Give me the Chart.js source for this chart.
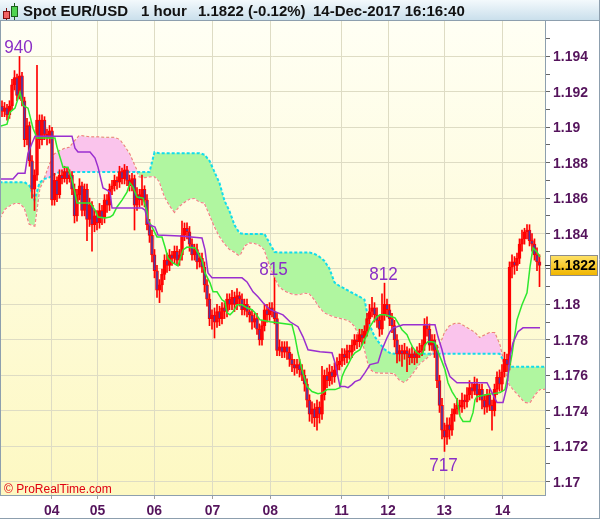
<!DOCTYPE html>
<html><head><meta charset="UTF-8"><title>Spot EUR/USD 1 hour</title>
<script src="https://cdn.jsdelivr.net/npm/chart.js"></script>
<style>
  html, body { margin: 0; padding: 0; background: #fff; }
  canvas { display: block; }
</style></head><body>
<canvas id="c" width="600" height="519"></canvas>
<script>
// --- hourly candles (bar index 0..215) ---
const opens = [
1.1912,1.1909,1.1911,1.1907,1.1912,1.1924,1.1928,1.1918,1.1929,1.1915,
1.1893,1.1901,1.1881,1.1865,1.1873,1.1904,1.1893,1.1904,1.1896,1.1894,
1.1898,1.1859,1.1870,1.1862,1.1873,1.1871,1.1875,1.1871,1.1873,1.1865,
1.1850,1.1862,1.1867,1.1853,1.1865,1.1848,1.1856,1.1845,1.1850,1.1846,
1.1853,1.1849,1.1859,1.1856,1.1865,1.1867,1.1870,1.1869,1.1875,1.1871,
1.1876,1.1870,1.1867,1.1871,1.1856,1.1862,1.1859,1.1865,1.1859,1.1845,
1.1839,1.1828,1.1819,1.1808,1.1811,1.1817,1.1825,1.1822,1.1828,1.1826,
1.1830,1.1825,1.1828,1.1839,1.1843,1.1841,1.1834,1.1828,1.1831,1.1824,
1.1826,1.1821,1.1811,1.1803,1.1792,1.1794,1.1790,1.1796,1.1792,1.1798,
1.1796,1.1803,1.1800,1.1804,1.1800,1.1805,1.1803,1.1797,1.1800,1.1796,
1.1794,1.1790,1.1792,1.1786,1.1780,1.1788,1.1797,1.1794,1.1798,1.1796,
1.1792,1.1774,1.1776,1.1773,1.1776,1.1773,1.1769,1.1766,1.1764,1.1766,
1.1763,1.1760,1.1755,1.1746,1.1738,1.1741,1.1736,1.1742,1.1738,1.1749,
1.1760,1.1757,1.1762,1.1759,1.1763,1.1766,1.1768,1.1772,1.1770,1.1774,
1.1773,1.1777,1.1780,1.1779,1.1783,1.1781,1.1785,1.1792,1.1796,1.1798,
1.1794,1.1791,1.1786,1.1794,1.1800,1.1797,1.1792,1.1788,1.1780,1.1772,
1.1774,1.1772,1.1774,1.1772,1.1770,1.1772,1.1770,1.1773,1.1774,1.1777,
1.1788,1.1786,1.1777,1.1780,1.1774,1.1757,1.1743,1.1729,1.1725,1.1732,
1.1729,1.1738,1.1741,1.1743,1.1742,1.1746,1.1745,1.1749,1.1753,1.1751,
1.1755,1.1749,1.1752,1.1746,1.1742,1.1749,1.1743,1.1740,1.1752,1.1759,
1.1755,1.1762,1.1769,1.1766,1.1821,1.1824,1.1822,1.1826,1.1834,1.1837,
1.1841,1.1842,1.1836,1.1834,1.1828,1.1824];
const highs = [
1.1915,1.1914,1.1913,1.1915,1.1927,1.1932,1.1930,1.1940,1.1931,1.1917,
1.1905,1.1903,1.1884,1.1876,1.1935,1.1907,1.1907,1.1906,1.1899,1.1901,
1.1900,1.1874,1.1872,1.1876,1.1876,1.1878,1.1877,1.1876,1.1875,1.1868,
1.1865,1.1871,1.1869,1.1868,1.1868,1.1860,1.1858,1.1853,1.1853,1.1857,
1.1856,1.1862,1.1862,1.1868,1.1870,1.1873,1.1872,1.1878,1.1877,1.1879,
1.1878,1.1873,1.1874,1.1873,1.1866,1.1865,1.1873,1.1867,1.1862,1.1848,
1.1842,1.1831,1.1822,1.1814,1.1820,1.1828,1.1829,1.1831,1.1830,1.1833,
1.1833,1.1831,1.1847,1.1846,1.1846,1.1844,1.1837,1.1834,1.1834,1.1829,
1.1829,1.1824,1.1814,1.1806,1.1797,1.1798,1.1800,1.1799,1.1801,1.1801,
1.1806,1.1806,1.1808,1.1807,1.1809,1.1807,1.1806,1.1803,1.1803,1.1799,
1.1797,1.1795,1.1795,1.1789,1.1791,1.1800,1.1800,1.1801,1.1801,1.1815,
1.1795,1.1780,1.1779,1.1779,1.1779,1.1776,1.1772,1.1769,1.1769,1.1769,
1.1766,1.1763,1.1758,1.1749,1.1745,1.1744,1.1746,1.1745,1.1765,1.1763,
1.1764,1.1766,1.1765,1.1767,1.1770,1.1772,1.1775,1.1775,1.1777,1.1777,
1.1780,1.1783,1.1783,1.1786,1.1786,1.1788,1.1795,1.1800,1.1804,1.1801,
1.1798,1.1794,1.1806,1.1812,1.1803,1.1800,1.1795,1.1791,1.1783,1.1777,
1.1777,1.1778,1.1776,1.1775,1.1776,1.1774,1.1776,1.1778,1.1780,1.1792,
1.1793,1.1789,1.1783,1.1783,1.1777,1.1760,1.1747,1.1733,1.1736,1.1736,
1.1741,1.1744,1.1747,1.1746,1.1750,1.1749,1.1753,1.1757,1.1756,1.1759,
1.1758,1.1755,1.1755,1.1749,1.1752,1.1752,1.1746,1.1755,1.1762,1.1763,
1.1766,1.1773,1.1772,1.1824,1.1828,1.1827,1.1829,1.1837,1.1842,1.1843,
1.1845,1.1845,1.1840,1.1837,1.1832,1.1828];
const lows = [
1.1906,1.1906,1.1904,1.1905,1.1910,1.1921,1.1915,1.1916,1.1912,1.1889,
1.1890,1.1878,1.1860,1.1853,1.1870,1.1888,1.1890,1.1893,1.1890,1.1891,
1.1856,1.1856,1.1858,1.1860,1.1868,1.1869,1.1868,1.1869,1.1862,1.1846,
1.1847,1.1859,1.1850,1.1850,1.1836,1.1844,1.1830,1.1841,1.1842,1.1843,
1.1845,1.1846,1.1852,1.1853,1.1862,1.1864,1.1865,1.1866,1.1868,1.1868,
1.1867,1.1864,1.1864,1.1842,1.1853,1.1855,1.1856,1.1855,1.1842,1.1835,
1.1824,1.1815,1.1804,1.1801,1.1807,1.1814,1.1818,1.1819,1.1822,1.1823,
1.1822,1.1822,1.1825,1.1836,1.1837,1.1830,1.1825,1.1825,1.1820,1.1821,
1.1818,1.1807,1.1799,1.1788,1.1786,1.1781,1.1787,1.1788,1.1789,1.1792,
1.1793,1.1797,1.1797,1.1796,1.1797,1.1799,1.1794,1.1794,1.1793,1.1790,
1.1786,1.1787,1.1783,1.1777,1.1777,1.1785,1.1790,1.1791,1.1793,1.1789,
1.1771,1.1771,1.1770,1.1770,1.1769,1.1765,1.1762,1.1760,1.1761,1.1759,
1.1757,1.1751,1.1742,1.1734,1.1733,1.1731,1.1729,1.1733,1.1735,1.1746,
1.1753,1.1754,1.1755,1.1756,1.1760,1.1763,1.1765,1.1766,1.1767,1.1769,
1.1770,1.1774,1.1775,1.1776,1.1777,1.1778,1.1782,1.1789,1.1793,1.1790,
1.1787,1.1782,1.1783,1.1791,1.1793,1.1788,1.1784,1.1776,1.1767,1.1768,
1.1765,1.1769,1.1762,1.1766,1.1767,1.1766,1.1767,1.1770,1.1771,1.1774,
1.1782,1.1774,1.1774,1.1770,1.1753,1.1739,1.1724,1.1717,1.1721,1.1724,
1.1726,1.1734,1.1738,1.1738,1.1739,1.1741,1.1742,1.1746,1.1747,1.1749,
1.1745,1.1746,1.1741,1.1738,1.1739,1.1740,1.1729,1.1737,1.1749,1.1751,
1.1751,1.1759,1.1762,1.1763,1.1815,1.1817,1.1819,1.1823,1.1830,1.1834,
1.1837,1.1833,1.1830,1.1825,1.1819,1.1810];
const closes = [
1.1909,1.1911,1.1907,1.1912,1.1924,1.1928,1.1918,1.1929,1.1915,1.1893,
1.1901,1.1881,1.1865,1.1873,1.1904,1.1893,1.1904,1.1896,1.1894,1.1898,
1.1859,1.1870,1.1862,1.1873,1.1871,1.1875,1.1871,1.1873,1.1865,1.1850,
1.1862,1.1867,1.1853,1.1865,1.1848,1.1856,1.1845,1.1850,1.1846,1.1853,
1.1849,1.1859,1.1856,1.1865,1.1867,1.1870,1.1869,1.1875,1.1871,1.1876,
1.1870,1.1867,1.1871,1.1856,1.1862,1.1859,1.1865,1.1859,1.1845,1.1839,
1.1828,1.1819,1.1808,1.1811,1.1817,1.1825,1.1822,1.1828,1.1826,1.1830,
1.1825,1.1828,1.1839,1.1843,1.1841,1.1834,1.1828,1.1831,1.1824,1.1826,
1.1821,1.1811,1.1803,1.1792,1.1794,1.1790,1.1796,1.1792,1.1798,1.1796,
1.1803,1.1800,1.1804,1.1800,1.1805,1.1803,1.1797,1.1800,1.1796,1.1794,
1.1790,1.1792,1.1786,1.1780,1.1788,1.1797,1.1794,1.1798,1.1796,1.1792,
1.1774,1.1776,1.1773,1.1776,1.1773,1.1769,1.1766,1.1764,1.1766,1.1763,
1.1760,1.1755,1.1746,1.1738,1.1741,1.1736,1.1742,1.1738,1.1749,1.1760,
1.1757,1.1762,1.1759,1.1763,1.1766,1.1768,1.1772,1.1770,1.1774,1.1773,
1.1777,1.1780,1.1779,1.1783,1.1781,1.1785,1.1792,1.1796,1.1798,1.1794,
1.1791,1.1786,1.1794,1.1800,1.1797,1.1792,1.1788,1.1780,1.1772,1.1774,
1.1772,1.1774,1.1772,1.1770,1.1772,1.1770,1.1773,1.1774,1.1777,1.1788,
1.1786,1.1777,1.1780,1.1774,1.1757,1.1743,1.1729,1.1725,1.1732,1.1729,
1.1738,1.1741,1.1743,1.1742,1.1746,1.1745,1.1749,1.1753,1.1751,1.1755,
1.1749,1.1752,1.1746,1.1742,1.1749,1.1743,1.1740,1.1752,1.1759,1.1755,
1.1762,1.1769,1.1766,1.1821,1.1824,1.1822,1.1826,1.1834,1.1837,1.1841,
1.1842,1.1836,1.1834,1.1828,1.1824,1.1822];

// --- ichimoku cloud, sampled every 2 bars ---
const cloudBars = [-1,1,3,5,7,9,11,13,15,17,19,21,23,25,27,29,31,33,35,37,39,41,43,45,47,49,51,53,55,57,
59,61,63,65,67,69,71,73,75,77,79,81,83,85,87,89,91,93,95,97,99,101,103,105,107,109,111,113,115,117,
119,121,123,125,127,129,131,133,135,137,139,141,143,145,147,149,151,153,155,157,159,161,163,165,167,169,171,173,175,177,
179,181,183,185,187,189,191,193,195,197,199,201,203,205,207,209,211,213,215,217.2];
const spanA = [
1.18690,1.18690,1.18690,1.18690,1.18690,1.18690,1.18670,1.18589,1.18687,1.18709,
1.18717,1.18735,1.18747,1.18747,1.18747,1.18747,1.18747,1.18747,1.18747,1.18747,
1.18747,1.18747,1.18747,1.18747,1.18747,1.18747,1.18747,1.18747,1.18747,1.18747,
1.18747,1.18859,1.18854,1.18854,1.18854,1.18854,1.18854,1.18854,1.18854,1.18854,
1.18854,1.18845,1.18811,1.18748,1.18685,1.18585,1.18527,1.18448,1.18402,1.18397,
1.18397,1.18397,1.18397,1.18397,1.18347,1.18296,1.18293,1.18293,1.18293,1.18293,
1.18293,1.18293,1.18293,1.18285,1.18269,1.18245,1.18201,1.18124,1.18104,1.18090,
1.18073,1.18059,1.18044,1.18027,1.17885,1.17820,1.17780,1.17747,1.17727,1.17721,
1.17721,1.17721,1.17721,1.17721,1.17721,1.17721,1.17721,1.17721,1.17721,1.17721,
1.17721,1.17721,1.17721,1.17721,1.17721,1.17721,1.17721,1.17721,1.17721,1.17721,
1.17721,1.17676,1.17648,1.17648,1.17648,1.17648,1.17648,1.17648,1.17648,1.17648];
const spanB = [
1.18487,1.18538,1.18559,1.18572,1.18572,1.18547,1.18454,1.18445,1.18656,1.18709,
1.18787,1.18848,1.18865,1.18879,1.18885,1.18920,1.18952,1.18948,1.18944,1.18944,
1.18944,1.18941,1.18941,1.18941,1.18929,1.18891,1.18848,1.18783,1.18722,1.18718,
1.18722,1.18724,1.18696,1.18612,1.18561,1.18523,1.18557,1.18579,1.18597,1.18601,
1.18580,1.18574,1.18510,1.18442,1.18386,1.18345,1.18313,1.18297,1.18276,1.18332,
1.18349,1.18347,1.18336,1.18310,1.18225,1.18155,1.18101,1.18078,1.18066,1.18057,
1.18058,1.18066,1.18062,1.18029,1.17986,1.17955,1.17942,1.17931,1.17924,1.17917,
1.17907,1.17879,1.17824,1.17751,1.17639,1.17618,1.17614,1.17614,1.17614,1.17611,
1.17575,1.17561,1.17589,1.17627,1.17667,1.17688,1.17713,1.17741,1.17759,1.17836,
1.17876,1.17890,1.17891,1.17875,1.17858,1.17841,1.17811,1.17825,1.17838,1.17839,
1.17774,1.17649,1.17548,1.17513,1.17483,1.17450,1.17445,1.17490,1.17521,1.17524];

// --- tenkan (green) / kijun (purple) vertices ---
const tenkanBars = [-0.8,2.0,3.2,5.2,7.2,8.4,10.4,12.4,14.0,21.2,22.0,24.4,26.4,28.0,29.2,30.0,35.2,37.2,38.4,41.2,
43.2,44.4,46.0,48.0,50.0,51.2,52.4,54.0,56.4,58.0,58.4,60.0,62.0,64.0,65.2,66.4,68.4,70.4,72.4,74.0,
77.2,78.4,80.0,81.2,83.2,84.4,86.0,88.0,89.2,90.0,91.2,92.4,94.0,96.0,98.0,100.0,101.2,103.2,107.2,116.0,
117.2,118.4,120.0,122.0,124.0,126.4,128.4,130.0,133.2,135.2,136.0,137.2,138.4,140.0,141.2,143.2,144.4,146.0,147.2,148.4,
150.0,151.2,153.2,156.0,157.2,158.4,160.0,162.0,163.2,164.4,166.0,167.2,168.4,169.2,170.4,172.0,173.2,174.4,176.0,177.2,
178.4,180.0,182.0,183.2,184.4,187.2,188.4,189.2,190.0,194.0,199.2,201.2,202.4,204.0,206.0,208.0,210.0,211.2,212.4,214.0,215.2];
const tenkanVals = [1.19006,1.19017,1.19085,1.19108,1.19198,1.19124,1.19108,1.18995,1.18939,1.18939,
1.18888,1.18775,1.18775,1.18702,1.18629,1.18572,1.18572,1.18533,1.18493,1.18488,
1.18493,1.18505,1.18550,1.18589,1.18634,1.18685,1.18662,1.18606,1.18600,1.18522,
1.18477,1.18437,1.18381,1.18381,1.18324,1.18262,1.18234,1.18217,1.18308,1.18324,
1.18319,1.18291,1.18251,1.18178,1.18122,1.18071,1.18071,1.18026,1.18015,1.17953,
1.17941,1.17958,1.17998,1.17998,1.17981,1.17970,1.17953,1.17913,1.17902,1.17885,
1.17817,1.17727,1.17631,1.17536,1.17508,1.17496,1.17502,1.17519,1.17519,1.17530,
1.17592,1.17631,1.17660,1.17705,1.17727,1.17744,1.17784,1.17829,1.17874,1.17902,
1.17930,1.17941,1.17941,1.17930,1.17924,1.17896,1.17857,1.17829,1.17789,1.17755,
1.17727,1.17716,1.17727,1.17772,1.17789,1.17789,1.17784,1.17733,1.17677,1.17631,
1.17558,1.17508,1.17462,1.17367,1.17339,1.17339,1.17389,1.17462,1.17479,1.17491,
1.17502,1.17519,1.17603,1.17716,1.17913,1.17998,1.18065,1.18212,1.18319,1.18296,1.18268];
const kijunBars = [-0.8,4.4,6.4,9.2,10.4,12.0,13.2,28.0,29.2,30.4,35.2,37.2,38.4,40.4,42.0,43.2,44.0,56.0,57.2,58.4,
59.2,61.2,62.4,71.2,80.0,81.2,82.4,84.0,96.0,98.0,99.2,100.4,102.4,104.4,107.2,112.4,115.2,118.4,120.4,122.4,
127.2,132.0,133.2,135.2,137.2,138.4,140.0,141.2,143.2,145.2,147.2,150.4,152.0,154.0,155.2,156.4,158.0,160.4,173.2,174.4,
176.0,177.2,179.2,182.0,194.0,196.0,198.0,200.4,202.0,203.2,204.4,206.4,208.4,215.2];
const kijunVals = [1.18708,1.18708,1.18741,1.18741,1.18854,1.18910,1.18950,1.18950,1.18882,1.18860,
1.18860,1.18826,1.18775,1.18657,1.18645,1.18634,1.18544,1.18544,1.18533,1.18465,
1.18448,1.18437,1.18392,1.18386,1.18375,1.18308,1.18178,1.18150,1.18150,1.18127,
1.18099,1.18071,1.18043,1.18009,1.17970,1.17941,1.17902,1.17874,1.17817,1.17744,
1.17733,1.17727,1.17671,1.17536,1.17536,1.17530,1.17547,1.17564,1.17575,1.17615,
1.17660,1.17671,1.17744,1.17812,1.17846,1.17868,1.17874,1.17885,1.17885,1.17817,
1.17744,1.17671,1.17592,1.17558,1.17558,1.17502,1.17446,1.17446,1.17536,1.17705,
1.17784,1.17846,1.17868,1.17868];

// --- axes / labels ---
const dayTicks = [19.9, 38.2, 60.9, 84.2, 107.3, 135.8, 154.4, 176.9, 200.2];
const dayLabels = ['04', '05', '06', '07', '08', '11', '12', '13', '14'];
const priceTicks = [1.170,1.171,1.172,1.173,1.174,1.175,1.176,1.177,1.178,1.179,1.180,1.181,1.182,
  1.183,1.184,1.185,1.186,1.187,1.188,1.189,1.190,1.191,1.192,1.193,1.194,1.195];
const priceLabels = ['1.17','','1.172','','1.174','','1.176','','1.178','','1.18','','1.182',
  '','1.184','','1.186','','1.188','','1.19','','1.192','','1.194',''];
const extremes = [
  { bar: 7, price: 1.1940, text: '940', above: true },
  { bar: 109, price: 1.1815, text: '815', above: true },
  { bar: 153, price: 1.1812, text: '812', above: true },
  { bar: 177, price: 1.1717, text: '717', above: false }
];
const headerParts = [['Spot EUR/USD', 23], ['1 hour', 141], ['1.1822 (-0.12%)', 198], ['14-Dec-2017 16:16:40', 313]];

const CANDLE = '#ff0000', BEAR = '#4b3aa6';
const GRID = '#dedcc4', AXIS_TXT = '#55145c', FRAME = '#8d9fae';
const LABEL_FONT = 'bold 15px "Liberation Sans", Arial, sans-serif';

const wickData = closes.map((c, i) => ({ x: i, y: [lows[i], highs[i]] }));
const bodyData = closes.map((c, i) => ({ x: i, y: [opens[i], c] }));
const bodyFill = closes.map((c, i) => c < opens[i] ? BEAR : 'rgba(0,0,0,0)');
const pts = (xs, ys) => xs.map((x, k) => ({ x, y: ys[k] }));

// narrow bold text, like the platform's axis font
function squeezed(ctx, text, x, y, sx, align) {
  ctx.save();
  ctx.translate(x, y); ctx.scale(sx, 1);
  ctx.textAlign = align;
  ctx.fillText(text, 0, 0);
  ctx.restore();
}

const frame = {
  id: 'frame',
  beforeDraw(chart) {
    const { ctx, chartArea: a, width, height } = chart;
    ctx.save();
    ctx.fillStyle = '#fff'; ctx.fillRect(0, 0, width, height);
    let g = ctx.createLinearGradient(0, 0, 0, 21);
    g.addColorStop(0, '#f3f9fc'); g.addColorStop(1, '#c8deeb');
    ctx.fillStyle = g; ctx.fillRect(0, 0, width, 21);
    ctx.fillStyle = FRAME; ctx.fillRect(0, 20, width, 1);
    g = ctx.createLinearGradient(0, a.top, 0, a.bottom);
    g.addColorStop(0, '#fffff4'); g.addColorStop(1, '#fdf8c2');
    ctx.fillStyle = g; ctx.fillRect(a.left, a.top, a.right - a.left, a.bottom - a.top);
    // little candle icon
    ctx.fillStyle = '#7a1010'; ctx.fillRect(6, 8, 1, 12);
    ctx.fillStyle = '#f06262'; ctx.fillRect(3, 11, 7, 8);
    ctx.strokeStyle = '#7a1010'; ctx.strokeRect(3.5, 11.5, 6, 7);
    ctx.fillStyle = '#1d5e1d'; ctx.fillRect(14, 3, 1, 17);
    ctx.fillStyle = '#4fd34f'; ctx.fillRect(11, 6, 7, 11);
    ctx.strokeStyle = '#1d5e1d'; ctx.strokeRect(11.5, 6.5, 6, 10);
    ctx.font = 'bold 15px "Liberation Sans", Arial, sans-serif';
    ctx.fillStyle = '#111';
    headerParts.forEach(([t, x]) => ctx.fillText(t, x, 16));
    ctx.restore();
  },
  afterDraw(chart) {
    const { ctx, chartArea: a, scales: { x, y } } = chart;
    ctx.save();
    // axis labels
    ctx.fillStyle = AXIS_TXT; ctx.font = LABEL_FONT; ctx.textBaseline = 'middle';
    priceTicks.forEach((v, i) => {
      if (priceLabels[i]) squeezed(ctx, priceLabels[i], 553, Math.round(y.getPixelForValue(v)) + 1, 0.93, 'left');
    });
    dayTicks.forEach((v, i) => squeezed(ctx, dayLabels[i], x.getPixelForValue(v), 511, 0.93, 'center'));
    // high / low labels
    ctx.fillStyle = '#8a2fc6'; ctx.textBaseline = 'alphabetic';
    ctx.font = '19px "Liberation Sans", Arial, sans-serif';
    extremes.forEach(e => {
      const px = x.getPixelForValue(e.bar), py = y.getPixelForValue(e.price);
      squeezed(ctx, e.text, px - 1, e.above ? py - 3 : py + 20, 0.9, 'center');
    });
    // last price box
    const last = closes[closes.length - 1];
    const ly = Math.round(y.getPixelForValue(last));
    ctx.fillStyle = '#333'; ctx.fillRect(a.right, ly, 6, 1);
    const g = ctx.createLinearGradient(0, ly - 10, 0, ly + 10);
    g.addColorStop(0, '#ffe36a'); g.addColorStop(1, '#f1b600');
    ctx.fillStyle = g; ctx.fillRect(550, ly - 10, 48, 21);
    ctx.strokeStyle = '#8c8c8c'; ctx.strokeRect(550.5, ly - 9.5, 47, 20);
    ctx.fillStyle = '#000'; ctx.textBaseline = 'middle';
    ctx.font = LABEL_FONT;
    squeezed(ctx, last.toFixed(4), 553, ly + 1, 0.93, 'left');
    // watermark
    ctx.fillStyle = '#e00010'; ctx.textBaseline = 'alphabetic'; ctx.textAlign = 'left';
    ctx.font = '12px "Liberation Sans", Arial, sans-serif';
    ctx.fillText('\u00a9 ProRealTime.com', 4, 493);
    // frame
    ctx.strokeStyle = FRAME; ctx.lineWidth = 1;
    ctx.beginPath();
    ctx.moveTo(0.5, 21); ctx.lineTo(0.5, a.bottom);
    ctx.moveTo(599.5, 0); ctx.lineTo(599.5, 519);
    ctx.moveTo(0, 518.5); ctx.lineTo(600, 518.5);
    ctx.stroke();
    ctx.restore();
  }
};

new Chart(document.getElementById('c'), {
  type: 'bar',
  data: {
    datasets: [
      { type: 'line', data: pts(cloudBars, spanA), borderColor: '#12dcec', borderWidth: 2, borderDash: [3, 2],
        pointRadius: 0, fill: { target: 1, above: '#b0f6a0', below: '#fac4ec' }, order: 3 },
      { type: 'line', data: pts(cloudBars, spanB), borderColor: '#f27c7c', borderWidth: 2, borderDash: [3, 2],
        pointRadius: 0, fill: false, order: 3 },
      { type: 'bar', data: wickData, backgroundColor: CANDLE, barThickness: 1, grouped: false, order: 2 },
      { type: 'bar', data: bodyData, backgroundColor: bodyFill, borderColor: CANDLE, borderWidth: 1,
        borderSkipped: false, barThickness: 3, minBarLength: 1, grouped: false, order: 1 },
      { type: 'line', data: pts(kijunBars, kijunVals), borderColor: '#9a2fcf', borderWidth: 1.5,
        pointRadius: 0, fill: false, order: 0 },
      { type: 'line', data: pts(tenkanBars, tenkanVals), borderColor: '#2ee82e', borderWidth: 1.5,
        pointRadius: 0, fill: false, order: 0 }
    ]
  },
  options: {
    responsive: false, animation: false, events: [],
    layout: { padding: { top: 21, left: 0, right: 0, bottom: 0 } },
    plugins: { legend: { display: false }, tooltip: { enabled: false } },
    scales: {
      x: {
        type: 'linear', min: -0.8, max: 217.2, offset: false,
        afterBuildTicks: s => { s.ticks = dayTicks.map(v => ({ value: v })); },
        afterFit: s => { s.height = 24; },
        grid: { color: GRID, offset: false, tickLength: 4, tickColor: '#a0a0a0' },
        border: { color: FRAME },
        ticks: { display: false }
      },
      y: {
        type: 'linear', position: 'right', min: 1.16924, max: 1.196,
        afterBuildTicks: s => { s.ticks = priceTicks.map(v => ({ value: v })); },
        afterFit: s => { s.width = 55; },
        grid: { color: c => priceLabels[c.index] ? GRID : 'rgba(0,0,0,0)', tickColor: '#666', tickLength: 5 },
        border: { color: FRAME },
        ticks: { display: false }
      }
    }
  },
  plugins: [frame]
});
</script></body></html>
